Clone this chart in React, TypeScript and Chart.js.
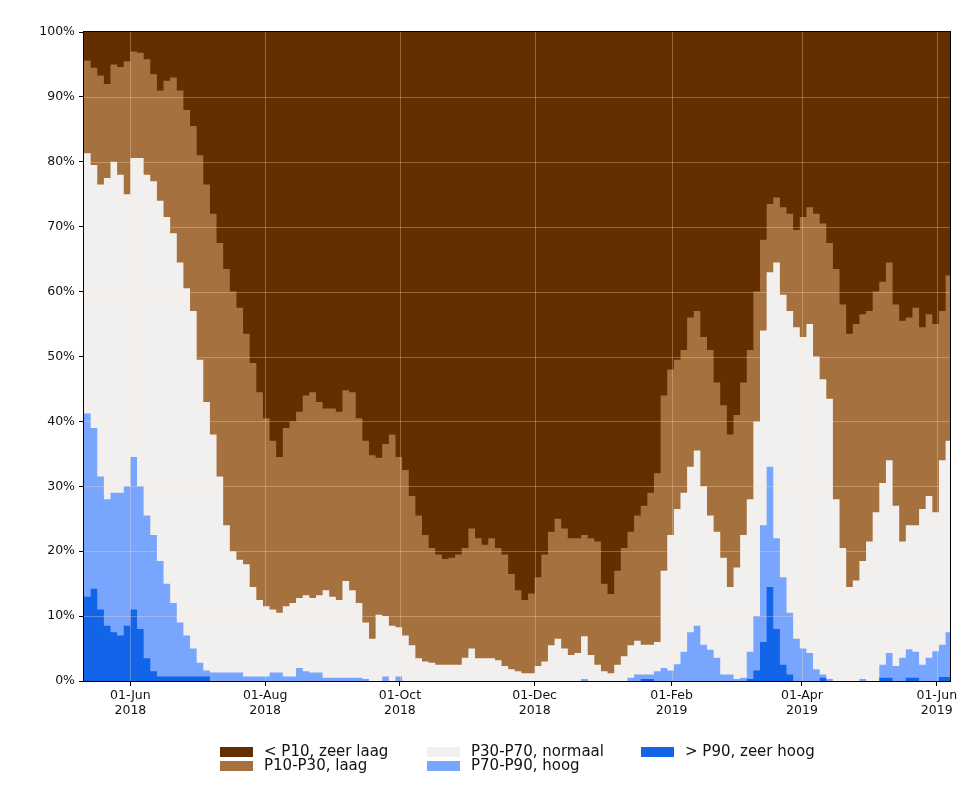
import React, { useEffect, useRef } from "react";
import { Chart, registerables } from "chart.js";

Chart.register(...registerables);

// ---- data ----
const START_DATE = "2018-05-11"; // first day shown
const STEP_DAYS = 3; // one reading every 3 days
const END_DAY = 392; // right edge of the plot (days after START_DATE)

// cumulative upper boundary of each class, in % of stations
// top of "P10-P30, laag" (= bottom of "< P10, zeer laag")
const p10Line = [
  95.6, 94.5, 93.3, 92.0, 95.0, 94.6, 95.5, 97.0, 96.8, 95.8,
  93.5, 91.0, 92.5, 93.0, 91.0, 88.0, 85.5, 81.0, 76.5, 72.0,
  67.5, 63.5, 60.0, 57.5, 53.5, 49.0, 44.5, 40.5, 37.0, 34.5,
  39.0, 40.0, 41.5, 44.0, 44.5, 43.0, 42.0, 42.0, 41.5, 44.8,
  44.5, 40.5, 37.0, 34.8, 34.4, 36.5, 38.0, 34.5, 32.5, 28.5,
  25.5, 22.5, 20.5, 19.5, 18.8, 19.0, 19.5, 20.5, 23.5, 22.0,
  21.0, 22.0, 20.5, 19.5, 16.5, 14.0, 12.5, 13.5, 16.0, 19.5,
  23.0, 25.0, 23.5, 22.0, 22.0, 22.5, 22.0, 21.5, 15.0, 13.4,
  17.0, 20.5, 23.0, 25.5, 27.0, 29.0, 32.0, 44.0, 48.0, 49.5,
  51.0, 56.0, 57.0, 53.0, 51.0, 46.0, 42.5, 38.0, 41.0, 46.0,
  51.0, 60.0, 68.0, 73.5, 74.5, 73.0, 72.0, 69.5, 71.5, 73.0,
  72.0, 70.5, 67.5, 63.5, 58.0, 53.5, 55.0, 56.5, 57.0, 60.0,
  61.5, 64.5, 58.0, 55.5, 56.0, 57.5, 54.5, 56.5, 55.0, 57.0,
  62.5,
];
// top of "P30-P70, normaal"
const p30Line = [
  81.3, 79.5, 76.5, 77.5, 80.0, 78.0, 75.0, 80.6, 80.6, 78.0,
  77.0, 74.0, 71.5, 69.0, 64.5, 60.5, 57.0, 49.5, 43.0, 38.0,
  31.5, 24.0, 20.0, 18.7, 18.0, 14.5, 12.5, 11.5, 11.0, 10.5,
  11.5, 12.0, 12.8, 13.2, 12.8, 13.2, 14.0, 13.0, 12.5, 15.4,
  14.0, 12.0, 9.0, 6.5, 10.2, 10.0, 8.5, 8.3, 7.0, 5.5,
  3.5, 3.0, 2.8, 2.5, 2.5, 2.5, 2.5, 3.6, 5.0, 3.5,
  3.5, 3.5, 3.2, 2.3, 1.8, 1.5, 1.2, 1.2, 2.3, 3.0,
  5.5, 6.5, 5.0, 4.0, 4.3, 6.9, 4.0, 2.5, 1.5, 1.2,
  2.5, 3.8, 5.5, 6.2, 5.6, 5.6, 6.0, 17.0, 22.5, 26.5,
  29.0, 33.0, 35.5, 30.0, 25.5, 23.0, 19.0, 14.5, 17.5, 22.5,
  28.0, 40.0, 54.0, 63.0, 64.5, 59.5, 57.0, 54.5, 53.0, 55.0,
  50.0, 46.5, 43.5, 28.0, 20.5, 14.5, 15.5, 18.5, 21.5, 26.0,
  30.5, 34.0, 27.0, 21.5, 24.0, 24.0, 26.5, 28.5, 26.0, 34.0,
  37.0,
];
// top of "P70-P90, hoog"
const p70Line = [
  41.2, 39.0, 31.5, 28.0, 29.0, 29.0, 30.0, 34.5, 30.0, 25.5,
  22.5, 18.5, 15.0, 12.0, 9.0, 7.0, 5.0, 2.8, 1.6, 1.3,
  1.3, 1.3, 1.3, 1.3, 0.7, 0.7, 0.7, 0.7, 1.3, 1.3,
  0.7, 0.7, 2.0, 1.5, 1.3, 1.3, 0.5, 0.5, 0.5, 0.5,
  0.5, 0.5, 0.3, 0, 0, 0.7, 0, 0.7, 0, 0,
  0, 0, 0, 0, 0, 0, 0, 0, 0, 0,
  0, 0, 0, 0, 0, 0, 0, 0, 0, 0,
  0, 0, 0, 0, 0, 0.3, 0, 0, 0, 0,
  0, 0, 0.5, 1.0, 1.0, 1.0, 1.5, 2.0, 1.6, 2.6,
  4.5, 7.5, 8.5, 5.6, 4.8, 3.6, 1.0, 1.0, 0.3, 0.5,
  4.5, 10.0, 24.0, 33.0, 22.0, 16.0, 10.5, 6.5, 5.0, 4.3,
  1.8, 1.0, 0.3, 0, 0, 0, 0, 0.3, 0, 0,
  2.5, 4.3, 2.3, 3.6, 4.9, 4.5, 2.5, 3.6, 4.6, 5.6,
  7.5,
];
// top of "> P90, zeer hoog"
const p90Line = [
  13.0, 14.2, 11.0, 8.5, 7.5, 7.0, 8.5, 11.0, 8.0, 3.5,
  1.5, 0.7, 0.7, 0.7, 0.7, 0.7, 0.7, 0.7, 0.7, 0,
  0, 0, 0, 0, 0, 0, 0, 0, 0, 0,
  0, 0, 0, 0, 0, 0, 0, 0, 0, 0,
  0, 0, 0, 0, 0, 0, 0, 0, 0, 0,
  0, 0, 0, 0, 0, 0, 0, 0, 0, 0,
  0, 0, 0, 0, 0, 0, 0, 0, 0, 0,
  0, 0, 0, 0, 0, 0, 0, 0, 0, 0,
  0, 0, 0, 0, 0.3, 0.3, 0, 0, 0, 0,
  0, 0, 0, 0, 0, 0, 0, 0, 0, 0,
  0.3, 1.6, 6.0, 14.5, 8.0, 2.5, 1.0, 0, 0, 0,
  0, 0.5, 0, 0, 0, 0, 0, 0, 0, 0,
  0.5, 0.5, 0, 0, 0.5, 0.5, 0, 0, 0, 0.6,
  0.6,
];

const tickDates = ["2018-06-01", "2018-08-01", "2018-10-01", "2018-12-01", "2019-02-01", "2019-04-01", "2019-06-01"];
const tickLabels = [
  ["01-Jun", "2018"],
  ["01-Aug", "2018"],
  ["01-Oct", "2018"],
  ["01-Dec", "2018"],
  ["01-Feb", "2019"],
  ["01-Apr", "2019"],
  ["01-Jun", "2019"],
];
const yTickValues = [0, 10, 20, 30, 40, 50, 60, 70, 80, 90, 100];

const classLabels = ["< P10, zeer laag", "P10-P30, laag", "P30-P70, normaal", "P70-P90, hoog", "> P90, zeer hoog"];
const classColors = ["#632e00", "#a5713f", "#f2f0ef", "#78a6ff", "#1264e8"];

// ---- helpers ----
const DAY_MS = 86400000;
const dayOf = (d: string) => Math.round((Date.parse(d) - Date.parse(START_DATE)) / DAY_MS);
const tickDays = tickDates.map(dayOf);
const toPoints = (vals: number[]) => [
  ...vals.map((v, i) => ({ x: i * STEP_DAYS, y: v })),
  { x: END_DAY, y: vals[vals.length - 1] },
];

const FONT = "'DejaVu Sans', sans-serif";
const GRID_COLOR = "rgba(255, 228, 196, 0.30)";

const overlayPlugin = {
  id: "overlay",
  beforeDatasetsDraw(chart: any) {
    const { ctx, chartArea: a } = chart;
    ctx.save();
    ctx.fillStyle = classColors[0];
    ctx.fillRect(a.left, a.top, a.right - a.left, a.bottom - a.top);
    ctx.restore();
  },
  afterDatasetsDraw(chart: any) {
    const { ctx, chartArea: a, scales } = chart;
    ctx.save();
    ctx.strokeStyle = GRID_COLOR;
    ctx.lineWidth = 1;
    ctx.beginPath();
    for (const v of yTickValues) {
      if (v === 0 || v === 100) continue;
      const y = Math.round(scales.y.getPixelForValue(v)) + 0.5;
      ctx.moveTo(a.left, y);
      ctx.lineTo(a.right, y);
    }
    for (const d of tickDays) {
      const x = Math.round(scales.x.getPixelForValue(d)) + 0.5;
      ctx.moveTo(x, a.top);
      ctx.lineTo(x, a.bottom);
    }
    ctx.stroke();
    ctx.strokeStyle = "#000";
    ctx.lineWidth = 1;
    ctx.strokeRect(a.left - 0.5, a.top - 0.5, a.right - a.left + 1, a.bottom - a.top + 1);
    ctx.restore();
  },
};

export default function App() {
  const canvasRef = useRef<HTMLCanvasElement | null>(null);

  useEffect(() => {
    document.body.style.margin = "0";
    const canvas = canvasRef.current;
    if (!canvas) return;

    const makeSet = (vals: number[], color: string, label: string) => ({
      label,
      data: toPoints(vals),
      backgroundColor: color,
      borderColor: "rgba(0,0,0,0)",
      borderWidth: 0,
      pointRadius: 0,
      stepped: true,
      fill: "origin",
    });

    const chart = new Chart(canvas, {
      type: "line",
      data: {
        datasets: [
          makeSet(p90Line, classColors[4], classLabels[4]),
          makeSet(p70Line, classColors[3], classLabels[3]),
          makeSet(p30Line, classColors[2], classLabels[2]),
          makeSet(p10Line, classColors[1], classLabels[1]),
        ] as any,
      },
      options: {
        animation: false,
        responsive: false,
        events: [],
        layout: { padding: { top: 32, right: 14, bottom: 74, left: 0 } },
        plugins: { legend: { display: false }, tooltip: { enabled: false } },
        scales: {
          x: {
            type: "linear",
            min: 0,
            max: END_DAY,
            afterBuildTicks: (scale: any) => {
              scale.ticks = tickDays.map((v) => ({ value: v }));
            },
            afterFit: (scale: any) => {
              scale.height = 40;
            },
            grid: { drawOnChartArea: false, drawTicks: true, tickLength: 5, color: "#000", lineWidth: 1 },
            border: { display: false },
            ticks: {
              autoSkip: false,
              maxRotation: 0,
              minRotation: 0,
              padding: 3,
              color: "#111",
              font: { family: FONT, size: 12.5, lineHeight: 1.15 },
              callback: (value: any) => {
                const i = tickDays.indexOf(Number(value));
                return i >= 0 ? tickLabels[i] : "";
              },
            },
          },
          y: {
            type: "linear",
            min: 0,
            max: 100,
            afterBuildTicks: (scale: any) => {
              scale.ticks = yTickValues.map((v) => ({ value: v }));
            },
            afterFit: (scale: any) => {
              scale.width = 84;
            },
            grid: { drawOnChartArea: false, drawTicks: true, tickLength: 5, color: "#000", lineWidth: 1 },
            border: { display: false },
            ticks: {
              padding: 4,
              color: "#111",
              font: { family: FONT, size: 12.5 },
              callback: (value: any) => `${value}%`,
            },
          },
        },
      } as any,
      plugins: [overlayPlugin],
    });

    return () => chart.destroy();
  }, []);

  const legendCols = [
    { patchX: 220, items: [0, 1] },
    { patchX: 427, items: [2, 3] },
    { patchX: 641, items: [4] },
  ];
  const rowPatchTop = [747, 761];
  const LEG_FS = 15;

  return (
    <div style={{ position: "relative", width: 964, height: 795, background: "#fff", overflow: "hidden" }}>
      <canvas ref={canvasRef} width={964} height={795} style={{ position: "absolute", left: 0, top: 0, display: "block" }} />
      {legendCols.map((col) =>
        col.items.map((idx, row) => (
          <React.Fragment key={idx}>
            <div
              style={{
                position: "absolute",
                left: col.patchX,
                top: rowPatchTop[row],
                width: 33,
                height: 10,
                background: classColors[idx],
              }}
            />
            <div
              style={{
                position: "absolute",
                left: col.patchX + 44,
                top: rowPatchTop[row] + 10 - Math.round(0.846 * LEG_FS),
                fontFamily: FONT,
                fontSize: LEG_FS,
                lineHeight: 1,
                color: "#111",
                whiteSpace: "nowrap",
              }}
            >
              {classLabels[idx]}
            </div>
          </React.Fragment>
        ))
      )}
    </div>
  );
}
